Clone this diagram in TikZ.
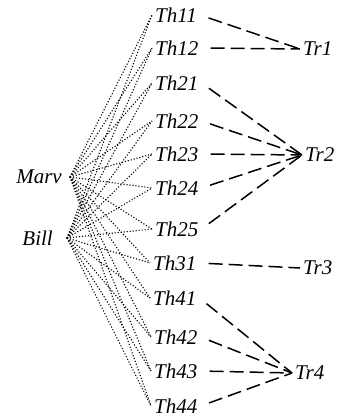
\documentclass[tikz,border=0pt]{standalone}
\usepackage{fontspec}
\setmainfont{Liberation Serif}
\begin{document}
\begin{tikzpicture}[x=1pt,y=-1pt,
  every node/.style={font=\fontsize{21}{24}\selectfont\itshape, inner sep=3pt},
  spk/.style={dash pattern=on 1.1pt off 1.9pt, line width=1.1pt},
  thtr/.style={dash pattern=on 14pt off 6pt, line width=1.5pt, shorten <=9pt}]
\useasboundingbox (0,0) rectangle (345,418);
\node[anchor=east] (marv) at (65,177) {Marv};
\node[anchor=east] (bill) at (56,238) {Bill};
\coordinate (marv-r) at ([xshift=5pt]marv.east);
\coordinate (bill-r) at ([xshift=11pt]bill.east);
\node[anchor=west] (th11) at (152,15) {Th11};
\node[anchor=west] (th12) at (152,48) {Th12};
\node[anchor=west] (th21) at (152,83) {Th21};
\node[anchor=west] (th22) at (152,121) {Th22};
\node[anchor=west] (th23) at (152,154) {Th23};
\node[anchor=west] (th24) at (152,188) {Th24};
\node[anchor=west] (th25) at (152,229) {Th25};
\node[anchor=west] (th31) at (150,263) {Th31};
\node[anchor=west] (th41) at (150,298) {Th41};
\node[anchor=west] (th42) at (151,337) {Th42};
\node[anchor=west] (th43) at (151,371) {Th43};
\node[anchor=west] (th44) at (151,406) {Th44};
\node[anchor=west] (tr1) at (300,49) {Tr1};
\node[anchor=west] (tr2) at (302,155) {Tr2};
\node[anchor=west] (tr3) at (300,268) {Tr3};
\node[anchor=west] (tr4) at (292,373) {Tr4};
% Marv and Bill to every Th
\foreach \t in {th11,th12,th21,th22,th23,th24,th25,th31,th41,th42,th43,th44}{
  \draw[spk] (marv-r) -- (\t.west);
  \draw[spk] (bill-r) -- (\t.west);
}
% Th to Tr
\draw[thtr] (th11.east) -- (tr1.west);
\draw[thtr] (th12.east) -- (tr1.west);
\draw[thtr] (th21.east) -- (tr2.west);
\draw[thtr] (th22.east) -- (tr2.west);
\draw[thtr] (th23.east) -- (tr2.west);
\draw[thtr] (th24.east) -- (tr2.west);
\draw[thtr] (th25.east) -- (tr2.west);
\draw[thtr] (th31.east) -- (tr3.west);
\draw[thtr] (th41.east) -- (tr4.west);
\draw[thtr] (th42.east) -- (tr4.west);
\draw[thtr] (th43.east) -- (tr4.west);
\draw[thtr] (th44.east) -- (tr4.west);
\end{tikzpicture}
\end{document}
